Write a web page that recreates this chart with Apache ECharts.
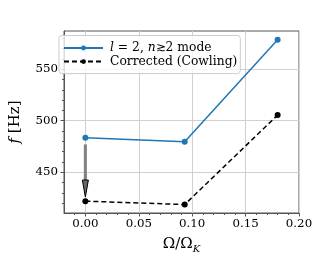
<!DOCTYPE html>
<html><head><meta charset="utf-8">
<script src="https://cdn.jsdelivr.net/npm/echarts@6/dist/echarts.min.js"></script>
<style>html,body{margin:0;padding:0;background:#fff}#c{width:332px;height:266px}</style>
</head><body><div id="c"></div>
<script>
const xValues = [0, 0.093, 0.18];
const modeFreq = [483.5, 479.7, 578.6];
const corrFreq = [422.0, 418.7, 505.5];
const arrowData = [[0, 477, 426]];
const xTicks = [0, 0.05, 0.1, 0.15, 0.2];
const xMinorTicks = [-0.01, 0.01, 0.02, 0.03, 0.04, 0.06, 0.07, 0.08, 0.09, 0.11, 0.12, 0.13, 0.14, 0.16, 0.17, 0.18, 0.19];
const yTicks = [450, 500, 550];
const yMinorTicks = [420, 430, 440, 460, 470, 480, 490, 510, 520, 530, 540, 560, 570, 580];
const seriesNames = ['mode', 'Corrected (Cowling)'];

const F = 'DejaVu Serif';
const chart = echarts.init(document.getElementById('c'));
const xMin = -0.02, xMax = 0.2, yMin = 410.5, yMax = 587;
const frame = '#555';
chart.setOption({
  animation: false,
  grid: {left: 53, right: 33, top: 31, bottom: 53, show: true, borderColor: frame, borderWidth: 1, containLabel: false},
  legend: {
    data: seriesNames, orient: 'vertical', left: 59, top: 35.5,
    itemWidth: 39, itemHeight: 6, itemGap: 1.6,
    padding: [6.5, 3, 6, 4], borderColor: '#ccc', borderWidth: 1, borderRadius: 3,
    backgroundColor: 'rgba(255,255,255,0.8)',
    formatter: n => n === 'mode' ? '{i|l} = 2, {i|n}\u22732 mode' : n,
    textStyle: {fontFamily: F, fontSize: 12.3, color: '#000', padding: [0, 0, 0, 2],
      rich: {i: {fontFamily: F, fontStyle: 'italic', fontSize: 12.3, color: '#000'}}}
  },
  xAxis: [{
    type: 'value', min: xMin, max: xMax,
    name: '{a|\u03A9/\u03A9}{s|K}', nameLocation: 'middle', nameGap: 13,
    nameTextStyle: {fontFamily: F, fontSize: 15, color: '#000', rich: {
      a: {fontFamily: F, fontSize: 15, lineHeight: 18, verticalAlign: 'top', color: '#000'},
      s: {fontFamily: F, fontSize: 10, fontStyle: 'italic', lineHeight: 10, padding: [10, 0, 0, 0], verticalAlign: 'bottom', color: '#000'}}},
    axisLine: {show: true, onZero: false, lineStyle: {color: frame}},
    axisTick: {show: true, customValues: xTicks, length: 3.5, lineStyle: {color: frame}},
    axisLabel: {customValues: xTicks, fontFamily: F, fontSize: 11.8, color: '#000', margin: 5, formatter: v => v.toFixed(2)},
    splitLine: {show: true, lineStyle: {color: '#d0d0d0', width: 1}}
  }, {
    type: 'value', min: xMin, max: xMax, position: 'bottom',
    axisLine: {show: false, onZero: false}, axisLabel: {show: false}, splitLine: {show: false},
    axisTick: {show: true, customValues: xMinorTicks, length: 2, lineStyle: {color: frame}}
  }],
  yAxis: [{
    type: 'value', min: yMin, max: yMax,
    name: '{i|f} [Hz]', nameLocation: 'middle', nameGap: 41,
    nameTextStyle: {fontFamily: F, fontSize: 15, color: '#000', rich: {i: {fontFamily: F, fontStyle: 'italic', fontSize: 15, color: '#000'}}},
    axisLine: {show: true, onZero: false, lineStyle: {color: frame}},
    axisTick: {show: true, customValues: yTicks, length: 3.5, lineStyle: {color: frame}},
    axisLabel: {customValues: yTicks, fontFamily: F, fontSize: 11.8, color: '#000', margin: 6},
    splitLine: {show: true, lineStyle: {color: '#d0d0d0', width: 1}}
  }, {
    type: 'value', min: yMin, max: yMax, position: 'left',
    axisLine: {show: false, onZero: false}, axisLabel: {show: false}, splitLine: {show: false},
    axisTick: {show: true, customValues: yMinorTicks, length: 2, lineStyle: {color: frame}}
  }],
  series: [{
    name: seriesNames[0], type: 'line', data: xValues.map((x, i) => [x, modeFreq[i]]),
    symbol: 'circle', symbolSize: 6, color: '#1f77b4',
    lineStyle: {width: 1.5, color: '#1f77b4'}, itemStyle: {color: '#1f77b4'}, z: 3
  }, {
    name: seriesNames[1], type: 'line', data: xValues.map((x, i) => [x, corrFreq[i]]),
    symbol: 'circle', symbolSize: 6, color: '#000',
    lineStyle: {width: 1.5, type: [5, 3], color: '#000'}, itemStyle: {color: '#000'}, z: 3
  }, {
    type: 'custom', data: arrowData, z: 4, silent: true,
    renderItem: (params, api) => {
      const x = api.value(0), y1 = api.value(1), y2 = api.value(2);
      const p1 = api.coord([x, y1]), p2 = api.coord([x, y2]);
      const head = 17, hw = 3;
      return {type: 'group', children: [
        {type: 'rect', shape: {x: p1[0] - 1.5, y: p1[1], width: 3, height: p2[1] - head - p1[1]}, style: {fill: '#808080'}},
        {type: 'polygon', shape: {points: [[p2[0] - hw, p2[1] - head], [p2[0] + hw, p2[1] - head], [p2[0], p2[1]]]},
         style: {fill: '#666', stroke: '#000', lineWidth: 1}}
      ]};
    }
  }]
});
</script></body></html>
